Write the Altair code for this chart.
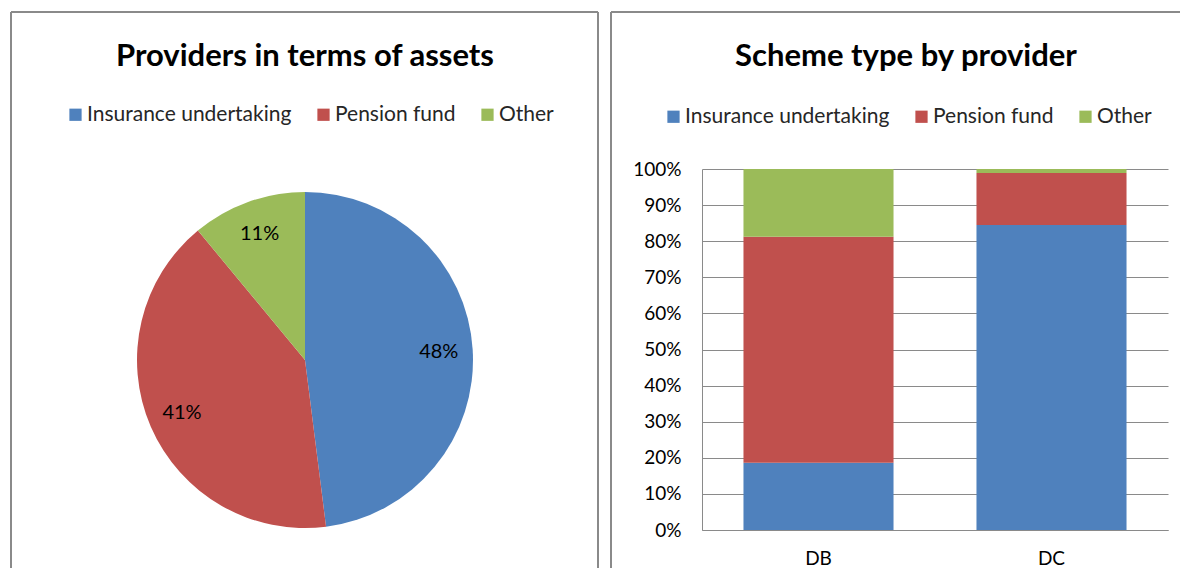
import altair as alt
import pandas as pd

# ---- data ----
providers = ["Insurance undertaking", "Pension fund", "Other"]
provider_colors = ["#4F81BD", "#C0504D", "#9BBB59"]
pie_values = [48, 41, 11]
pie_labels = ["48%", "41%", "11%"]

schemes = ["DB", "DC"]
db_shares = [0.186, 0.626, 0.188]
dc_shares = [0.845, 0.144, 0.011]
y_ticks = [0.0, 0.1, 0.2, 0.3, 0.4, 0.5, 0.6, 0.7, 0.8, 0.9, 1.0]

title_left = "Providers in terms of assets"
title_right = "Scheme type by provider"

FONT = "Lato"
W, H = 1172, 560
GRAY = "#8a8a8a"

pie_df = pd.DataFrame({
    "provider": providers,
    "value": pie_values,
    "label": pie_labels,
    "order": list(range(len(providers))),
})

bar_rows = []
for scheme, shares in zip(schemes, [db_shares, dc_shares]):
    for i, (p, s) in enumerate(zip(providers, shares)):
        bar_rows.append({"scheme": scheme, "provider": p, "share": s, "order": i})
bar_df = pd.DataFrame(bar_rows)

one = pd.DataFrame({"k": [0]})

# ---- panel borders ----
def rule(x, x2, y, y2):
    return alt.Chart(one).mark_rule(color=GRAY, strokeWidth=2).encode(
        x=alt.value(x), x2=alt.value(x2), y=alt.value(y), y2=alt.value(y2)
    )

borders = [
    rule(3, 3, 4, H),        # left panel, left edge
    rule(3, 590, 4, 4),      # left panel, top edge
    rule(590, 590, 4, H),    # left panel, right edge
    rule(603, 603, 4, H),    # right panel, left edge
    rule(603, W, 4, 4),      # right panel, top edge
]

# ---- titles ----
def title_text(t, x, y):
    return alt.Chart(pd.DataFrame({"t": [t]})).mark_text(
        font=FONT, fontSize=31, fontWeight="bold", color="#000000",
        align="center", baseline="middle"
    ).encode(text="t:N", x=alt.value(x), y=alt.value(y))

titles = [title_text(title_left, 297, 49), title_text(title_right, 898, 49)]

legend_common = dict(
    orient="none", direction="horizontal", columns=3, title=None,
    symbolType="square", symbolSize=150, symbolStrokeWidth=0,
    labelFont=FONT, labelFontSize=21, labelColor="#262626", labelLimit=0,
    labelOffset=1, columnPadding=21, padding=0,
)

# ---- pie ----
pie = alt.Chart(pie_df).mark_arc(outerRadius=168, stroke=None).encode(
    theta=alt.Theta("value:Q", stack=True),
    order=alt.Order("order:Q"),
    color=alt.Color(
        "provider:N",
        scale=alt.Scale(domain=providers, range=provider_colors),
        legend=alt.Legend(legendX=57, legendY=96, **legend_common),
    ),
    x=alt.value(297),
    y=alt.value(352),
)

pie_text = alt.Chart(pie_df).mark_text(
    radius=134, font=FONT, fontSize=20, color="#000000"
).encode(
    theta=alt.Theta("value:Q", stack=True),
    order=alt.Order("order:Q"),
    detail="provider:N",
    text="label:N",
    x=alt.value(297),
    y=alt.value(352),
)

# ---- stacked bars ----
bars = alt.Chart(bar_df).mark_bar().encode(
    x=alt.X(
        "scheme:N",
        sort=schemes,
        scale=alt.Scale(range=[694, 1160], paddingInner=0.356, paddingOuter=0.178),
        axis=alt.Axis(
            title=None, labelAngle=0, offset=-(H - 522), ticks=False, tickSize=0,
            labelPadding=19, domainColor=GRAY, domainWidth=1, grid=False,
            labelFont=FONT, labelFontSize=19, labelColor="#000000",
        ),
    ),
    y=alt.Y(
        "share:Q",
        stack="zero",
        scale=alt.Scale(domain=[0, 1], range=[522, 161], nice=False),
        axis=alt.Axis(
            title=None, values=y_ticks, format=".0%", offset=-694,
            ticks=False, tickSize=0, labelPadding=21,
            domainColor=GRAY, domainWidth=1, grid=True, gridColor=GRAY, gridWidth=1,
            labelFont=FONT, labelFontSize=19, labelColor="#000000",
        ),
    ),
    order=alt.Order("order:Q"),
    color=alt.Color(
        "provider:N",
        scale=alt.Scale(domain=providers, range=provider_colors),
        legend=alt.Legend(legendX=655, legendY=98, **legend_common),
    ),
)

chart = alt.layer(
    *borders, *titles, pie, pie_text, bars
).resolve_scale(
    color="independent"
).resolve_legend(
    color="independent"
).properties(
    width=W, height=H, padding=0
).configure_view(
    stroke=None
)

chart.save("out.html", embed_options={"renderer": "svg", "actions": False})
